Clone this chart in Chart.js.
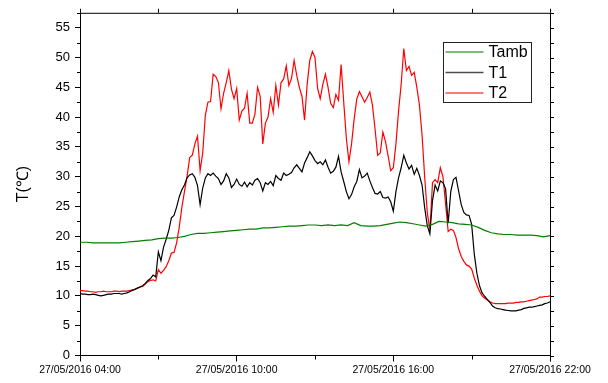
<!DOCTYPE html>
<html lang="en">
  <head>
    <meta charset="utf-8" />
    <title>Temperatures 27/05/2016</title>
    <script src="https://cdn.jsdelivr.net/npm/chart.js"></script>
    <style>
      html, body { margin: 0; padding: 0; background: #fff; }
      #wrap { width: 608px; height: 383px; position: relative; }
    </style>
  </head>
  <body>
    <div id="wrap"><canvas id="myChart"></canvas></div>
    <script>
      // hours since midnight, 27/05/2016
      const startHour = 4;
      const stepT = 0.1;     // T1 / T2 sampled every 6 min
      const stepAmb = 0.25;  // Tamb sampled every 15 min

      const tamb = [
        19.0, 19.0, 18.9, 18.9,
        18.9, 18.9, 18.9, 19.0,
        19.1, 19.2, 19.3, 19.4,
        19.6, 19.7, 19.7, 19.8,
        20.0, 20.3, 20.5, 20.5,
        20.6, 20.7, 20.8, 20.9,
        21.0, 21.1, 21.2, 21.2,
        21.4, 21.4, 21.5, 21.6,
        21.7, 21.7, 21.8, 21.9,
        21.9, 21.8, 21.9, 21.8,
        21.9, 21.8, 22.3, 21.8,
        21.7, 21.7, 21.8, 22.0,
        22.2, 22.4, 22.3, 22.1,
        21.9, 21.7, 22.0, 22.5,
        22.4, 22.3, 22.1, 22.0,
        21.9, 21.5, 21.0, 20.6,
        20.4, 20.3, 20.3, 20.2,
        20.2, 20.2, 20.1, 19.9,
        20.1
      ];

      const t1 = [
        10.4, 10.3, 10.3, 10.2, 10.2, 10.3, 10.2, 10.1, 10.0, 10.1,
        10.2, 10.3, 10.3, 10.4, 10.4, 10.4, 10.3, 10.4, 10.5, 10.7,
        10.9, 11.1, 11.3, 11.5, 11.7, 12.1, 12.6, 12.9, 13.5, 13.2,
        17.4, 15.9, 18.2, 19.5, 21.0, 23.1, 23.5, 24.9, 26.6, 27.8,
        28.6, 29.8, 30.3, 30.5, 29.9, 28.5, 25.3, 28.1, 29.8, 30.5,
        30.2, 30.6, 30.1, 29.7, 28.7, 29.3, 30.5, 29.8, 28.2, 28.7,
        29.6, 28.7, 28.4, 29.1, 28.3, 29.0, 28.6, 29.4, 29.7, 29.0,
        27.6, 29.0, 28.7, 29.2, 28.5, 30.2, 29.7, 29.4, 30.6, 30.2,
        30.4, 30.7, 31.5, 32.0, 31.4, 30.8, 32.3, 33.2, 34.2, 33.5,
        32.7, 32.2, 32.5, 32.0, 32.8, 31.6, 30.6, 30.9, 31.6, 33.4,
        30.8, 29.2, 27.5, 26.3, 27.0, 28.3, 29.2, 31.2, 29.8, 30.1,
        30.6, 29.3, 28.2, 27.2, 27.1, 27.5, 26.5, 26.4, 26.6, 25.8,
        24.2, 27.5, 29.8, 31.5, 33.6, 32.3, 31.3, 31.9, 30.4, 31.4,
        30.2, 28.6, 24.8, 21.8, 20.4, 26.0, 28.6, 27.6, 29.3, 29.0,
        28.0, 22.2, 27.5, 29.5, 29.9, 27.6, 25.3, 24.0, 23.6, 23.5,
        22.0, 17.0, 13.8, 11.7, 10.5, 9.9, 9.4, 8.9, 8.3, 8.0,
        7.85, 7.8, 7.7, 7.6, 7.55, 7.5, 7.5, 7.5, 7.6, 7.7,
        7.9, 8.0, 8.1, 8.1, 8.2, 8.3, 8.4, 8.5, 8.7, 8.8,
        9.0
      ];

      const t2 = [
        10.9, 10.9, 10.8, 10.8, 10.7, 10.7, 10.6, 10.7, 10.7, 10.8,
        10.7, 10.7, 10.7, 10.8, 10.8, 10.7, 10.8, 10.8, 10.8, 10.9,
        11.0, 11.1, 11.3, 11.5, 11.6, 12.0, 12.4, 12.6, 12.7, 12.5,
        14.4, 13.8, 14.3, 14.9, 15.9, 17.2, 17.3, 18.9, 21.5, 24.8,
        27.5, 30.0, 33.2, 33.6, 35.5, 36.8, 31.0, 34.0, 40.3, 42.5,
        42.6, 47.2, 46.8, 45.8, 41.4, 44.0, 45.8, 47.8, 44.7, 43.1,
        44.8, 39.5, 41.0, 41.5, 44.0, 39.0, 39.0, 40.5, 45.0, 43.5,
        35.5, 39.0, 40.0, 43.1, 40.8, 45.3, 42.0, 45.8, 46.4, 48.6,
        45.3, 46.5, 49.5, 47.0, 45.0, 43.5, 39.5, 45.5, 49.5, 51.0,
        50.0, 44.8, 43.1, 45.5, 47.2, 45.0, 42.3, 41.6, 43.8, 42.8,
        48.8, 42.5, 36.5, 32.5, 35.5, 39.7, 43.0, 44.3, 43.4, 42.5,
        43.3, 44.2, 42.0, 38.0, 33.6, 34.0, 37.5, 35.9, 33.5, 31.0,
        31.5, 35.5, 41.0, 45.5, 51.5, 47.8, 48.5, 47.0, 47.5, 45.0,
        42.0, 37.0, 30.0, 24.0, 21.0, 29.0, 29.5, 29.0, 31.5, 30.0,
        25.5, 20.8, 21.2, 21.0, 19.8, 17.9, 16.6, 15.8, 15.2, 15.0,
        14.5, 13.0, 11.8, 10.8, 10.0, 9.6, 9.3, 9.0, 8.8, 8.7,
        8.7, 8.7, 8.7, 8.7, 8.8, 8.8, 8.8, 8.9, 8.9, 9.0,
        9.0, 9.1, 9.2, 9.3, 9.4, 9.5, 9.8, 9.8, 9.9, 9.9,
        10.0
      ];

      const seriesNames = ["Tamb", "T1", "T2"];
      const seriesColors = ["#008000", "#000000", "#ff0000"];

      const xTicks = [4, 10, 16, 22];
      const xTickLabels = ["27/05/2016 04:00", "27/05/2016 10:00", "27/05/2016 16:00", "27/05/2016 22:00"];
      const xMinorTicks = [7, 13, 19];
      const yTicks = [0, 5, 10, 15, 20, 25, 30, 35, 40, 45, 50, 55];

      function toPoints(values, step) {
        return values.map((v, i) => ({ x: startHour + i * step, y: v }));
      }

      // extra frame: top / right axes, minor ticks and the boxed legend
      const framePlugin = {
        id: "frame",
        afterDraw(chart) {
          const { ctx, chartArea: a, scales } = chart;
          const x = scales.x, y = scales.y;
          ctx.save();
          ctx.strokeStyle = "#000";
          ctx.lineWidth = 1;
          ctx.beginPath();
          ctx.moveTo(a.left, a.top + 0.5);
          ctx.lineTo(a.right + 0.5, a.top + 0.5);
          ctx.lineTo(a.right + 0.5, a.bottom);
          for (const v of yTicks) {
            for (const m of [v, v + 2.5]) {
              const py = Math.round(y.getPixelForValue(m)) + 0.5;
              if (py < a.top) continue;
              ctx.moveTo(a.right, py);
              ctx.lineTo(a.right + 4, py);
              if (m !== v) {
                ctx.moveTo(a.left - 3, py);
                ctx.lineTo(a.left, py);
              }
            }
          }
          for (const v of xMinorTicks) {
            const px = Math.round(x.getPixelForValue(v)) + 0.5;
            ctx.moveTo(px, a.bottom);
            ctx.lineTo(px, a.bottom + 4);
          }
          for (const v of xTicks.concat(xMinorTicks)) {
            const px = Math.round(x.getPixelForValue(v)) + 0.5;
            ctx.moveTo(px, a.top);
            ctx.lineTo(px, a.top - 4);
          }
          ctx.stroke();

          // legend
          const bx = 443.5, by = 42.5, bw = 88, bh = 60;
          ctx.fillStyle = "#fff";
          ctx.fillRect(bx, by, bw, bh);
          ctx.strokeStyle = "#222";
          ctx.strokeRect(bx, by, bw, bh);
          ctx.font = "16px 'Liberation Sans', Arial, sans-serif";
          ctx.textBaseline = "middle";
          ctx.fillStyle = "#000";
          chart.data.datasets.forEach((ds, i) => {
            const ly = by + 9.5 + i * 20.5;
            ctx.strokeStyle = ds.borderColor;
            ctx.globalAlpha = 0.7;
            ctx.lineWidth = 1.5;
            ctx.beginPath();
            ctx.moveTo(bx + 2, ly);
            ctx.lineTo(bx + 40, ly);
            ctx.stroke();
            ctx.globalAlpha = 1;
            ctx.fillText(ds.label, bx + 45, ly + 1);
          });
          ctx.restore();
        },
      };

      const ctx = document.getElementById("myChart");

      new Chart(ctx, {
        type: "line",
        data: {
          datasets: [
            { label: seriesNames[0], data: toPoints(tamb, stepAmb), borderColor: seriesColors[0] },
            { label: seriesNames[1], data: toPoints(t1, stepT), borderColor: seriesColors[1] },
            { label: seriesNames[2], data: toPoints(t2, stepT), borderColor: seriesColors[2] },
          ],
        },
        options: {
          responsive: true,
          maintainAspectRatio: false,
          animation: false,
          layout: { padding: { top: 10, right: 58, left: 0, bottom: 0 } },
          elements: {
            point: { radius: 0 },
            line: { borderWidth: 1.2, tension: 0 },
          },
          plugins: {
            legend: { display: false },
            tooltip: { enabled: false },
          },
          scales: {
            x: {
              type: "linear",
              min: 4,
              max: 22,
              afterFit: (s) => { s.height = 27.5; },
              afterBuildTicks: (s) => { s.ticks = xTicks.map((v) => ({ value: v })); },
              grid: { drawOnChartArea: false, color: "#000", tickLength: 6 },
              border: { color: "#000", width: 1 },
              ticks: {
                color: "#000",
                padding: 2,
                maxRotation: 0,
                font: { size: 10.5 },
                callback: (v) => xTickLabels[xTicks.indexOf(v)],
              },
            },
            y: {
              min: 0,
              max: 57.5,
              afterFit: (s) => { s.width = 80; },
              afterBuildTicks: (s) => { s.ticks = yTicks.map((v) => ({ value: v })); },
              grid: { drawOnChartArea: false, color: "#000", tickLength: 5 },
              border: { color: "#000", width: 1 },
              ticks: { color: "#000", padding: 5, font: { size: 13 } },
              title: {
                display: true,
                text: "T(℃)",
                color: "#000",
                font: { size: 16 },
                padding: { top: 14, bottom: 0 },
              },
            },
          },
        },
        plugins: [framePlugin],
      });
    </script>
  </body>
</html>
